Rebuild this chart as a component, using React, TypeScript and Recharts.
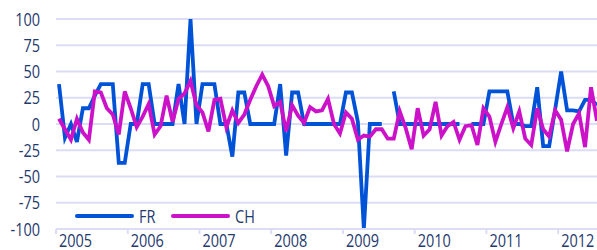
import { LineChart, Line, XAxis, YAxis, CartesianGrid } from "recharts";

const YEARS = ["2005", "2006", "2007", "2008", "2009", "2010", "2011", "2012"];
const MONTH_NUMS = ["01", "02", "03", "04", "05", "06", "07", "08", "09", "10", "11", "12"];
// monthly, Jan 2005 .. Jul 2012
const MONTHS = YEARS.flatMap((y) => MONTH_NUMS.map((m) => `${y}-${m}`)).slice(0, 91);

const FR: (number | null)[] = [
  38, -13, 0, -17, 15, 15, 27, 38, 38, 38, -37, -37,
  0, 0, 38, 38, 0, 0, 0, 0, 38, 0, 100, 0,
  38, 38, 38, 0, 0, -31, 30, 30, 0, 0, 0, 0,
  0, 38, -30, 30, 30, 0, 0, 0, 0, 0, 0, 0,
  30, 30, 2, -100, 0, 0, 0, null, 31, 0, 0, 0,
  0, 0, 0, 0, 0, 0, 0, 0, null, 0, 0, 0,
  31, 31, 31, 31, 0, 0, -2, -2, 35, -21, -21, 14,
  50, 13, 13, 12, 23, 23, 18,
];

const CH: number[] = [
  5, -5, -15, 5, -8, -15, 31, 30, 15, 9, -10, 31,
  15, -3, 7, 19, -10, -2, 27, 2, 24, 29, 41, 18,
  11, -7, 23, 24, -3, 13, 1, 9, 23, 36, 47, 36,
  17, 21, -7, 18, 8, 1, 16, 12, 13, 24, 0, -9,
  11, 5, -15, -11, -12, -5, -5, -14, -14, 12, -4, -24,
  15, -11, -5, 21, -11, -2, 2, -15, -2, -1, -20, 15,
  7, -17, 0, 16, -4, 12, -14, -20, 15, -5, -12, 13,
  4, -26, 0, 10, -22, 35, 3,
];

const SERIES = [
  { key: "FR", color: "#0052d6" },
  { key: "CH", color: "#cc12c8" },
];

const Y_TICKS = [-100, -75, -50, -25, 0, 25, 50, 75, 100];
const YEAR_TICKS = YEARS.map((_, i) => i * 12);

const GRID = "#dcdcf6";
const TEXT = "#1f3a6e";
const FONT = "'Open Sans', sans-serif";

const data = MONTHS.map((month, i) => ({
  month,
  t: i + 0.5,
  FR: FR[i],
  CH: CH[i],
}));

const YearTick = ({ x, y, payload }: any) => (
  <text
    transform={`translate(${x + 3},${y - 1}) scale(1,1.22)`}
    y={10}
    fontFamily={FONT}
    fontSize={14.5}
    fill={TEXT}
  >
    {YEARS[Math.round(payload.value / 12)]}
  </text>
);

const ValueTick = ({ x, y, payload }: any) => (
  <text
    transform={`translate(${x},${y}) scale(1,1.26)`}
    y={5.2}
    textAnchor="end"
    fontFamily={FONT}
    fontSize={14.5}
    fill={TEXT}
  >
    {payload.value}
  </text>
);

export default function App() {
  return (
    <div style={{ position: "absolute", left: 0, top: 0, width: 597, height: 250, background: "#fff" }}>
      <LineChart
        width={597}
        height={250}
        data={data}
        margin={{ top: 19, right: 0, bottom: 0, left: 0 }}
      >
        <CartesianGrid vertical={false} stroke={GRID} strokeWidth={2} />
        <XAxis
          dataKey="t"
          type="number"
          domain={[0, 90.5]}
          ticks={YEAR_TICKS}
          interval={0}
          height={21}
          tickSize={5}
          axisLine={{ stroke: GRID, strokeWidth: 2 }}
          tickLine={{ stroke: GRID, strokeWidth: 2 }}
          tick={YearTick}
        />
        <YAxis
          domain={[-100, 100]}
          ticks={Y_TICKS}
          interval={0}
          width={56}
          axisLine={false}
          tickLine={false}
          tickMargin={10}
          tick={ValueTick}
        />
        {SERIES.map((s) => (
          <Line
            key={s.key}
            dataKey={s.key}
            stroke={s.color}
            strokeWidth={3.8}
            dot={false}
            activeDot={false}
            isAnimationActive={false}
          />
        ))}
      </LineChart>
      <svg
        width={597}
        height={250}
        style={{ position: "absolute", left: 0, top: 0, pointerEvents: "none" }}
      >
        {SERIES.map((s, i) => (
          <g key={s.key} transform={`translate(${77 + i * 96},216)`}>
            <line x1={0} x2={55} y1={0} y2={0} stroke={s.color} strokeWidth={4} strokeLinecap="round" />
            <text
              transform="translate(62,0) scale(1,1.26)"
              y={5.2}
              fontFamily={FONT}
              fontSize={14.5}
              fill={TEXT}
            >
              {s.key}
            </text>
          </g>
        ))}
      </svg>
    </div>
  );
}
